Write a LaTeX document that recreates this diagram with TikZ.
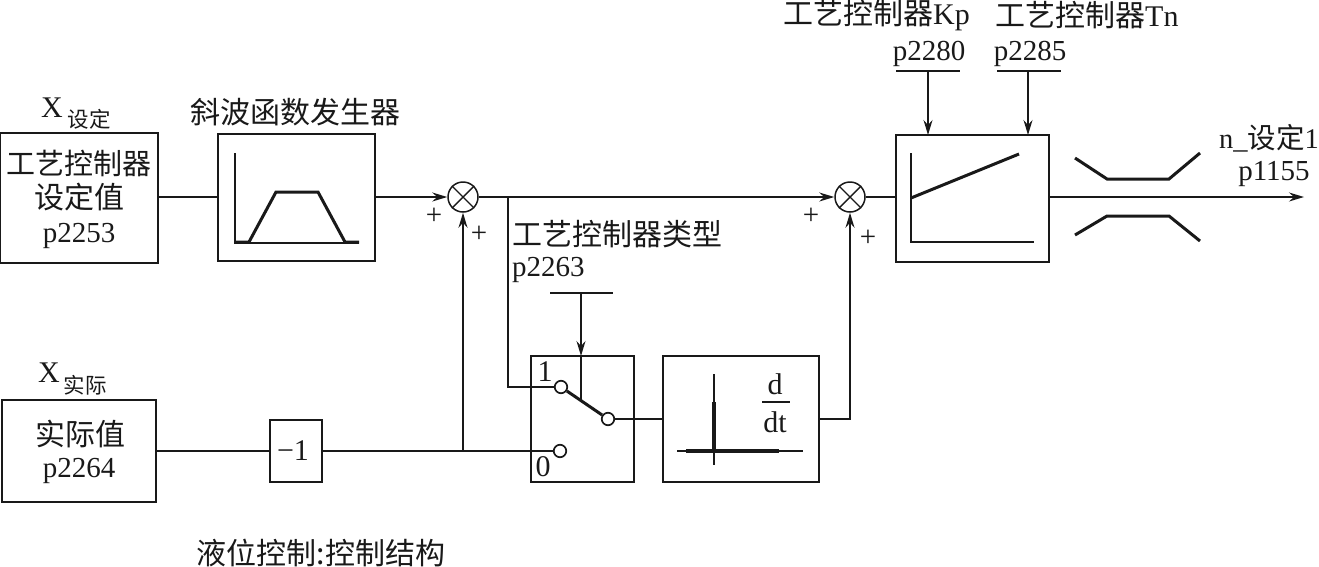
\documentclass[tikz,border=0pt]{standalone}
\usepackage{fontspec}
\setmainfont{Liberation Serif}
\newfontfamily\cjk{Noto Sans CJK SC}
\usetikzlibrary{arrows.meta,calc}
\tikzset{
  wire/.style={line width=1.4pt,draw=black!90},
  arrowwire/.style={wire,-{Stealth[length=15pt,width=9pt,inset=5pt]}},
  blockbox/.style={draw=black!90,line width=1.7pt,fill=none,rectangle,inner sep=0pt},
  thinbox/.style={blockbox,line width=1.3pt},
  sumjoint/.style={draw=black!90,line width=1.5pt,circle,minimum size=30pt,inner sep=0pt},
  contact/.style={draw=black!90,line width=1.7pt,circle,minimum size=12.5pt,inner sep=0pt},
  curve/.style={line width=3pt,draw=black!90,line join=miter},
  axisline/.style={line width=1.3pt,draw=black!90},
  txt/.style={inner sep=0pt,font=\fontsize{30}{32}\selectfont,text=black!90},
  numtxt/.style={inner sep=0pt,font=\fontsize{29}{32}\selectfont,text=black!90},
  subtxt/.style={inner sep=0pt,font=\fontsize{21.5}{24}\selectfont,text=black!90},
  signtxt/.style={inner sep=0pt,font=\fontsize{29}{30}\selectfont,text=black!90},
}
\begin{document}
\begin{tikzpicture}[x=1pt,y=-1pt]
\useasboundingbox (0,0) rectangle (1319,566);

% Blocks
\node[blockbox,minimum width=158pt,minimum height=130pt] (setp) at (79,198) {};
\node[blockbox,minimum width=157pt,minimum height=127pt] (ramp) at (296.5,197.5) {};
\node[blockbox,minimum width=153pt,minimum height=127pt] (ctrl) at (972.5,198.5) {};
\node[blockbox,minimum width=154pt,minimum height=102pt] (act) at (79,451) {};
\node[thinbox,minimum width=52pt,minimum height=62pt] (neg) at (296,451) {};
\node[thinbox,minimum width=103pt,minimum height=126pt] (sw) at (582.5,419) {};
\node[blockbox,minimum width=156pt,minimum height=126pt] (diff) at (741,419) {};

% Summing points
\node[sumjoint] (s1) at (463,197) {};
\node[sumjoint] (s2) at (850,197) {};
\draw[wire] (s1.45) -- (s1.225) (s1.135) -- (s1.315);
\draw[wire] (s2.45) -- (s2.225) (s2.135) -- (s2.315);

% Switch contacts
\node[contact] (c1) at (561,387) {};
\node[contact] (c0) at (560,451) {};
\node[contact] (cm) at (608,419) {};
\draw[line width=3pt,draw=black!90] (c1) -- (cm);

% Auxiliary points
\coordinate (tap1) at (508,197);
\coordinate (tap2) at (463,451);
\coordinate (out) at (1304,197);
\coordinate (kpa) at (896,71);
\coordinate (kpb) at (960,71);
\coordinate (tna) at (997,71);
\coordinate (tnb) at (1061,71);
\coordinate (kptap) at (928,71);
\coordinate (tntap) at (1028,71);
\coordinate (typea) at (550,293);
\coordinate (typeb) at (613,293);
\coordinate (typetap) at (581,293);
\coordinate (kpin) at (928,135);
\coordinate (tnin) at (1028,135);
\coordinate (swin) at (581,356);
\coordinate (lever) at (581,400);

% Signal paths
\draw[wire] (setp.east |- s1.west) -- (ramp.west |- s1.west);
\draw[arrowwire] (ramp.east |- s1.west) -- (s1.west);
\draw[wire] (s1.east) -- (tap1);
\draw[arrowwire] (tap1) -- (s2.west);
\draw[wire] (tap1) |- (c1.west);
\draw[wire] (s2.east) -- (ctrl.west |- s2.east);
\draw[arrowwire] (ctrl.east |- out) -- (out);
\draw[wire] (act.east) -- (neg.west);
\draw[wire] (neg.east) -- (c0.west);
\draw[arrowwire,line width=1.7pt] (tap2) -- (s1.south);
\draw[wire] (cm.east) -- (diff.west |- cm.east);
\draw[arrowwire] (diff.east |- cm.east) -| (s2.south);
\draw[wire] (kpa) -- (kpb);
\draw[wire] (tna) -- (tnb);
\draw[wire] (typea) -- (typeb);
\draw[arrowwire] (kptap) -- (kpin);
\draw[arrowwire] (tntap) -- (tnin);
\draw[arrowwire] (typetap) -- (swin);
\draw[wire] (swin) -- (lever);

% Ramp characteristic
\draw[axisline] (235,153) -- (235,243) -- (359,243);
\draw[curve] (235,242) -- (249,242) -- (276,192) -- (318,192) -- (345,242) -- (359,242);

% Controller characteristic
\draw[axisline] (911,153) -- (911,242) -- (1034,242);
\draw[curve] (911,198) -- (1019,154);

% Limiter
\draw[curve] (1075,158) -- (1107,179) -- (1169,179) -- (1200,153);
\draw[curve] (1075,235) -- (1107,216) -- (1169,216) -- (1200,241);

% Differentiator characteristic
\draw[axisline] (714,374) -- (714,465);
\draw[axisline] (677,451) -- (803,451);
\draw[line width=3.4pt,draw=black!90] (714,402) -- (714,451);
\draw[line width=3.4pt,draw=black!90] (686,451) -- (779,451);
\draw[line width=1.2pt,draw=black!90] (762,402) -- (790,402);
\node[txt] (dnum) at (775,384) {d};
\node[txt] (dden) at (775,422) {dt};

% Labels
\node[txt] (xs) at (52,108) {X};
\node[subtxt] (xss) at (89,119) {\cjk 设定};
\node[numtxt] (t1a) at (79,163) {\cjk 工艺控制器};
\node[txt] (t1b) at (79,197) {\cjk 设定值};
\node[numtxt] (t1c) at (79,236) {p2253};
\node[txt] (rt) at (295,112) {\cjk 斜波函数发生器};
\node[txt] (xa) at (49,373) {X};
\node[subtxt] (xas) at (85,385) {\cjk 实际};
\node[txt] (t2a) at (80,434) {\cjk 实际值};
\node[numtxt] (t2b) at (79,471) {p2264};
\node[txt] (negt) at (293,451) {−1};
\node[txt] (bot) at (321,553) {\cjk 液位控制:控制结构};
\node[txt,anchor=west] (ty) at (512,234) {\cjk 工艺控制器类型};
\node[numtxt,anchor=west] (typ) at (512,270) {p2263};
\node[txt] (one) at (545,372) {1};
\node[txt] (zero) at (543,467) {0};
\node[txt,anchor=west] (kp) at (783,15) {{\cjk 工艺控制器}Kp};
\node[txt,anchor=west] (tn) at (995,15) {{\cjk 工艺控制器}Tn};
\node[numtxt] (kpp) at (929,54) {p2280};
\node[numtxt] (tnp) at (1030,54) {p2285};
\node[numtxt,anchor=east,font=\fontsize{28.5}{32}\selectfont] (no) at (1319,138) {n\_{\cjk 设定}1};
\node[numtxt] (nop) at (1274,174) {p1155};
\node[signtxt] (p1) at (434,216) {+};
\node[signtxt] (p2) at (479,234) {+};
\node[signtxt] (p3) at (811,216) {+};
\node[signtxt] (p4) at (868,238) {+};
\end{tikzpicture}
\end{document}
